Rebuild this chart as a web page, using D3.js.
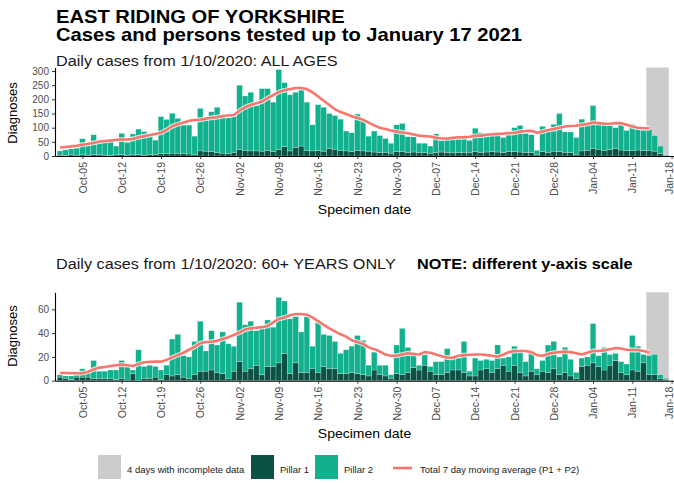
<!DOCTYPE html>
<html>
<head>
<meta charset="utf-8">
<script src="https://cdn.jsdelivr.net/npm/d3@7"></script>
<style>
  body { margin: 0; background: #fff; }
  svg { display: block; font-family: "Liberation Sans", Arial, sans-serif; }
</style>
</head>
<body>
<div id="chart"></div>
<script>
// East Riding cases chart — two stacked panels (all ages / 60+)

const startDate = "2020-10-01";
const incompleteDays = ["2021-01-14", "2021-01-15", "2021-01-16", "2021-01-17"];
const weekTicks = ["2020-10-05","2020-10-12","2020-10-19","2020-10-26","2020-11-02","2020-11-09",
  "2020-11-16","2020-11-23","2020-11-30","2020-12-07","2020-12-14","2020-12-21","2020-12-28",
  "2021-01-04","2021-01-11","2021-01-18"];
const allYTicks = [0, 50, 100, 150, 200, 250, 300];
const over60YTicks = [0, 20, 40, 60];

// daily totals (P1 + P2) and pillar 1, from 1 Oct 2020
const allCases = [
  18, 22, 25, 28, 61, 40, 75, 52, 54, 55,
  35, 80, 48, 78, 95, 86, 70, 56, 139, 129,
  151, 133, 109, 109, 70, 168, 127, 156, 172, 140,
  135, 140, 250, 212, 225, 178, 238, 238, 190, 305,
  259, 216, 225, 236, 190, 110, 181, 172, 150, 143,
  130, 88, 82, 148, 125, 70, 88, 72, 62, 45,
  110, 115, 68, 68, 45, 45, 35, 78, 55, 60,
  60, 62, 72, 55, 98, 82, 70, 75, 78, 65,
  80, 100, 108, 80, 75, 20, 105, 88, 112, 150,
  85, 85, 65, 130, 118, 178, 120, 115, 108, 100,
  110, 90, 112, 95, 92, 92, 72, 35, 3];
const allPillar1 = [
  3, 2, 4, 3, 4, 3, 5, 4, 3, 2,
  4, 5, 3, 4, 5, 3, 4, 6, 8, 9,
  10, 9, 8, 7, 5, 18, 17, 16, 12, 10,
  9, 13, 22, 20, 18, 18, 17, 19, 16, 22,
  34, 18, 30, 35, 20, 18, 19, 17, 27, 24,
  20, 18, 15, 20, 18, 17, 14, 12, 13, 10,
  15, 16, 13, 14, 12, 12, 10, 12, 14, 13,
  11, 12, 13, 11, 15, 13, 14, 16, 14, 12,
  15, 16, 14, 13, 12, 5, 16, 13, 17, 15,
  13, 12, 6, 18, 20, 27, 24, 20, 23, 26,
  21, 20, 20, 21, 19, 20, 17, 9, 1];
const allAvg = [
  30, 32, 34, 36, 40, 43, 46, 51, 53, 55,
  57, 58, 58, 60, 66, 70, 74, 78, 82, 92,
  105, 112, 118, 124, 127, 128, 132, 135, 137, 141,
  143, 145, 160, 172, 180, 186, 192, 204, 215, 226,
  232, 236, 240, 240, 236, 225, 210, 195, 180, 165,
  155, 148, 140, 134, 128, 118, 108, 100, 95, 90,
  86, 83, 80, 76, 72, 70, 69, 64, 62, 62,
  64, 66, 66, 68, 71, 72, 75, 77, 78, 79,
  81, 82, 86, 88, 89, 82, 86, 92, 95, 100,
  104, 106, 107, 110, 113, 118, 116, 114, 114, 116,
  116, 110, 104, 100, 98, 98];

const over60Cases = [
  5, 4, 4, 5, 10, 7, 17, 8, 8, 9,
  9, 17, 12, 9, 26, 12, 13, 12, 9, 13,
  35, 39, 21, 20, 33, 50, 25, 42, 30, 41,
  31, 29, 66, 47, 50, 42, 44, 51, 45, 70,
  67, 52, 54, 41, 54, 29, 49, 39, 38, 33,
  23, 26, 29, 38, 34, 13, 24, 13, 13, 5,
  30, 44, 28, 24, 13, 22, 12, 16, 16, 27,
  19, 19, 33, 8, 19, 17, 18, 17, 30, 19,
  20, 29, 26, 16, 24, 10, 17, 30, 33, 20,
  28, 18, 7, 19, 20, 48, 21, 28, 22, 23,
  16, 14, 38, 29, 22, 21, 22, 5, 2];
const over60Pillar1 = [
  3, 2, 1, 3, 3, 3, 2, 2, 2, 2,
  1, 2, 0, 6, 0, 2, 2, 3, 1, 5,
  4, 5, 3, 2, 5, 8, 8, 9, 7, 6,
  2, 8, 16, 8, 10, 13, 5, 12, 12, 15,
  23, 6, 15, 7, 7, 10, 7, 12, 10, 10,
  6, 6, 7, 6, 5, 4, 9, 5, 4, 2,
  6, 5, 7, 11, 9, 13, 8, 5, 5, 7,
  9, 9, 7, 4, 4, 9, 10, 7, 10, 13,
  8, 13, 7, 4, 8, 5, 8, 7, 10, 5,
  7, 4, 2, 12, 13, 15, 12, 9, 13, 17,
  7, 5, 9, 8, 15, 5, 5, 2, 1];
const over60Avg = [
  6.5, 6.5, 6.3, 6.2, 6.3, 7.5, 9.5, 11, 11.5, 12.3,
  13, 13.5, 13, 12.4, 14, 15.5, 15.8, 16, 16, 17.5,
  19.6, 21.5, 23.5, 26, 28.5, 31.5, 32.5, 32.8, 33.5, 35,
  36.5, 38.5, 40.5, 43, 44, 44.5, 45, 46, 49, 52,
  53, 55, 56, 56, 55.5, 53, 50, 47, 44, 41.5,
  39, 37, 34, 32.5, 31, 28, 26.5, 24.5, 22, 21,
  21, 22, 23, 22.5, 22, 24, 23.5, 22, 20.5, 19.5,
  19.3, 21, 21.5, 21.8, 22, 22, 21.5, 21, 20.2, 22,
  24, 25, 25, 25, 24, 21.5, 21, 22.5, 23.5, 24,
  24.4, 24, 23, 22, 23.5, 25, 25, 25.5, 26.5, 27.5,
  27, 26, 25.8, 25.8, 25, 23.8];

const P1 = "#0b5244", P2 = "#12b18e", GREY = "#cccccc", RED = "#f8766d";
const FONT = "'Liberation Sans', Arial, sans-serif";
const SX = 1.12;  // reference text is a little wider than tall

const W = 674, H = 483;
const DAY = 864e5;
const parse = d3.utcParse("%Y-%m-%d");
const t0 = parse(startDate);
const dayDate = i => d3.utcDay.offset(t0, i);

const svg = d3.select("#chart").append("svg").attr("width", W).attr("height", H);

const x = d3.scaleUtc()
  .domain([new Date(+t0 - 0.89 * DAY), new Date(+t0 + 109.43 * DAY)])
  .range([55, W]);
const bw = x(dayDate(1)) - x(dayDate(0));

function label(sel, px, py, str, size, weight) {
  return sel.append("text")
    .attr("transform", `translate(${px},${py}) scale(${SX},1)`)
    .attr("font-size", size).attr("font-weight", weight || "normal")
    .attr("fill", "#000").text(str);
}

// Titles
label(svg, 56, 22.7, "EAST RIDING OF YORKSHIRE", 18, "bold");
label(svg, 56, 41, "Cases and persons tested up to January 17 2021", 18, "bold");

const panels = [
  {sub: "Daily cases from 1/10/2020: ALL AGES", subY: 65.5, note: null,
   cases: allCases, p1: allPillar1, avg: allAvg, yTicks: allYTicks,
   yMax: 312.4, top: 67.5, bottom: 156, diagY: 113, xTitleY: 214},
  {sub: "Daily cases from 1/10/2020: 60+ YEARS ONLY", subY: 269, note: "NOTE: different y-axis scale",
   cases: over60Cases, p1: over60Pillar1, avg: over60Avg, yTicks: over60YTicks,
   yMax: 74.3, top: 292.3, bottom: 380.7, diagY: 336, xTitleY: 438}
];

panels.forEach(p => {
  const y = d3.scaleLinear().domain([0, p.yMax]).range([p.bottom, p.top]);
  const g = svg.append("g");

  label(g, 56, p.subY, p.sub, 14.5).attr("fill", "#1a1a1a");
  if (p.note) label(g, 417, p.subY, p.note, 14.5, "bold");

  // incomplete-data band
  const d0 = parse(incompleteDays[0]), d1 = parse(incompleteDays[incompleteDays.length - 1]);
  g.append("rect")
    .attr("x", x(new Date(+d0 - DAY / 2)))
    .attr("width", x(new Date(+d1 + DAY / 2)) - x(new Date(+d0 - DAY / 2)))
    .attr("y", p.top).attr("height", p.bottom - p.top)
    .attr("fill", GREY);

  // Pillar 1 (bottom of stack)
  g.selectAll(null).data(p.p1).enter().append("rect")
    .attr("x", (d, i) => x(dayDate(i)) - bw / 2).attr("width", bw)
    .attr("y", d => y(d)).attr("height", d => y(0) - y(d))
    .attr("fill", P1).attr("stroke", "#fff").attr("stroke-width", 0.5).attr("stroke-opacity", 0.45);

  // Pillar 2 on top, up to the daily total
  g.selectAll(null).data(p.cases).enter().append("rect")
    .attr("x", (d, i) => x(dayDate(i)) - bw / 2).attr("width", bw)
    .attr("y", d => y(d)).attr("height", (d, i) => Math.max(0, y(p.p1[i]) - y(d)))
    .attr("fill", P2).attr("stroke", "#fff").attr("stroke-width", 0.5).attr("stroke-opacity", 0.45);

  // 7 day average with white halo
  const line = d3.line().x((d, i) => x(dayDate(i))).y(d => y(d));
  g.append("path").datum(p.avg).attr("d", line)
    .attr("fill", "none").attr("stroke", "#fff").attr("stroke-width", 4.8).attr("stroke-opacity", 0.75)
    .attr("stroke-linejoin", "round");
  g.append("path").datum(p.avg).attr("d", line)
    .attr("fill", "none").attr("stroke", RED).attr("stroke-width", 2.6).attr("stroke-linejoin", "round");

  // Axes
  const yAx = g.append("g").attr("transform", "translate(55,0)")
    .call(d3.axisLeft(y).tickValues(p.yTicks).tickSize(3).tickSizeOuter(0).tickPadding(3))
    .attr("font-family", FONT).attr("font-size", 10);
  yAx.select(".domain").attr("stroke", "#000").attr("stroke-width", 1.1);
  yAx.selectAll(".tick line").attr("stroke", "#333");
  yAx.selectAll(".tick text").attr("fill", "#4d4d4d");

  const xAx = g.append("g").attr("transform", `translate(0,${p.bottom})`)
    .call(d3.axisBottom(x).tickValues(weekTicks.map(parse)).tickFormat(d3.utcFormat("%b-%d"))
      .tickSize(3).tickSizeOuter(0))
    .attr("font-family", FONT).attr("font-size", 10.5);
  xAx.select(".domain").attr("stroke", "#000").attr("stroke-width", 1.1);
  xAx.selectAll(".tick line").attr("stroke", "#333");
  xAx.selectAll(".tick text").attr("fill", "#4d4d4d")
    .attr("transform", "rotate(-90)").attr("text-anchor", "end")
    .attr("x", -6).attr("y", (d, i, n) => i === n.length - 1 ? -2.5 : 0).attr("dy", "0.35em");

  // Axis titles
  g.append("text").attr("transform", `translate(17,${p.diagY}) rotate(-90)`)
    .attr("text-anchor", "middle").attr("font-size", 13).attr("fill", "#000").text("Diagnoses");
  label(g, 364.5, p.xTitleY, "Specimen date", 12.5).attr("text-anchor", "middle");
});

// Legend
const lg = svg.append("g").attr("font-size", 9.5).attr("fill", "#1a1a1a");
const legendItems = [
  {type: "box", fill: GREY, x: 98, text: "4 days with incomplete data"},
  {type: "box", fill: P1, x: 251, text: "Pillar 1"},
  {type: "box", fill: P2, x: 315, text: "Pillar 2"},
  {type: "line", fill: RED, x: 393, text: "Total 7 day moving average (P1 + P2)"}
];
legendItems.forEach(it => {
  if (it.type === "box") {
    lg.append("rect").attr("x", it.x).attr("y", 455).attr("width", 23).attr("height", 24).attr("fill", it.fill);
    lg.append("text").attr("x", it.x + 29).attr("y", 472.5).text(it.text);
  } else {
    lg.append("line").attr("x1", it.x).attr("x2", it.x + 19).attr("y1", 468).attr("y2", 468)
      .attr("stroke", it.fill).attr("stroke-width", 2.6);
    lg.append("text").attr("x", it.x + 27).attr("y", 472.5).text(it.text);
  }
});
</script>
</body>
</html>
